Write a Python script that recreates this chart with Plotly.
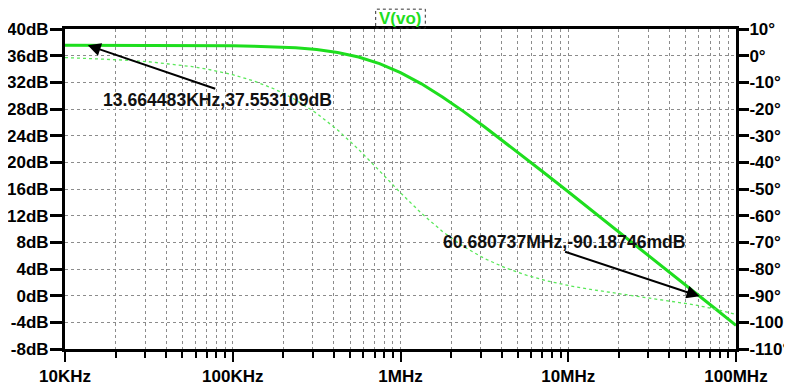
import plotly.graph_objects as go
import math

# ---- data (Bode plot of V(vo)) ----
freq_hz = [10000, 13335, 17783, 23714, 31623, 42170, 56234, 74989,
           100000, 133350, 177830, 237140, 316230, 421700, 562340, 749890,
           1000000, 1333500, 1778300, 2371400, 3162300, 4217000, 5623400, 7498900,
           10000000, 13335000, 17783000, 23714000, 31623000, 42170000, 56234000, 74989000,
           100000000]
mag_db = [37.549, 37.549, 37.548, 37.546, 37.543, 37.538, 37.529, 37.512,
          37.483, 37.431, 37.341, 37.184, 36.919, 36.485, 35.806, 34.812,
          33.463, 31.777, 29.811, 27.644, 25.341, 22.959, 20.525, 18.063,
          15.583, 13.096, 10.601, 8.103, 5.601, 3.098, 0.587, -1.930,
          -4.463]
phase_deg = [-0.72, -0.96, -1.28, -1.71, -2.28, -3.04, -4.05, -5.40,
             -7.14, -9.47, -12.55, -16.54, -21.61, -27.84, -35.14, -43.21,
             -51.42, -59.14, -65.91, -71.54, -76.04, -79.58, -82.32, -84.48,
             -86.18, -87.58, -88.76, -89.86, -90.93, -92.09, -93.41, -95.03,
             -97.04]

x_tickvals = [1e4, 1e5, 1e6, 1e7, 1e8]
x_ticktext = ["10KHz", "100KHz", "1MHz", "10MHz", "100MHz"]
x_minorvals = [m * d for d in [1e4, 1e5, 1e6, 1e7] for m in range(2, 10)]
db_ticks = [-8, -4, 0, 4, 8, 12, 16, 20, 24, 28, 32, 36, 40]
deg_ticks = [-110, -100, -90, -80, -70, -60, -50, -40, -30, -20, -10, 0, 10]

cursor1 = (13664.483, 37.553109, "13.664483KHz,37.553109dB")
cursor2 = (60680737.0, -0.09018746, "60.680737MHz,-90.18746mdB")

title_text = "V(vo)"

# ---- figure ----
FONT = "Liberation Sans"
tickfont = dict(family=FONT, size=17, color="black", weight="bold")
GRID = "#8c8c8c"

fig = go.Figure()
fig.add_trace(go.Scatter(x=freq_hz, y=mag_db, mode="lines",
                         line=dict(color="rgb(30,222,30)", width=3),
                         yaxis="y", hoverinfo="skip"))
fig.add_trace(go.Scatter(x=freq_hz, y=phase_deg, mode="lines",
                         line=dict(color="rgb(90,232,90)", width=1.3, dash="dot"),
                         yaxis="y2", hoverinfo="skip"))

# page body has an 8px margin, so the figure is 8px smaller and margins shifted
fig.update_layout(
    width=784, height=377,
    margin=dict(l=57, r=56, t=21, b=36, autoexpand=False),
    paper_bgcolor="white", plot_bgcolor="white",
    showlegend=False,
    xaxis=dict(type="log", range=[4, 8], automargin=False,
               tickmode="array", tickvals=x_tickvals, ticktext=x_ticktext,
               ticks="outside", ticklen=10, tickwidth=2, tickcolor="black",
               showline=True, linewidth=3, linecolor="black", mirror=True,
               showgrid=True, gridcolor=GRID, griddash="dot", gridwidth=1,
               minor=dict(tickmode="array", tickvals=x_minorvals,
                          ticks="outside", ticklen=6, tickwidth=2, tickcolor="black",
                          showgrid=True, gridcolor=GRID, griddash="dot", gridwidth=1),
               tickfont=tickfont, zeroline=False),
    yaxis=dict(range=[-8, 40], automargin=False, tickmode="array", tickvals=db_ticks,
               ticktext=[f"{v}dB" for v in db_ticks],
               ticks="outside", ticklen=12, tickwidth=3, tickcolor="black",
               showline=True, linewidth=3, linecolor="black",
               showgrid=True, gridcolor=GRID, griddash="dot", gridwidth=1,
               ticklabelstandoff=-2,
               tickfont=tickfont, zeroline=False),
    yaxis2=dict(range=[-110, 10], automargin=False, overlaying="y", side="right",
                tickmode="array", tickvals=deg_ticks,
                ticktext=[f"{v}°" for v in deg_ticks],
                ticks="outside", ticklen=10, tickwidth=3, tickcolor="black",
                showline=True, linewidth=3, linecolor="black",
                ticklabelstandoff=-3,
                showgrid=False, tickfont=tickfont, zeroline=False),
)

annots = []
# cursor arrows
for (fx, fy, _), (axp, ayp) in zip([cursor1, cursor2], [(129, 44), (-136, -45)]):
    annots.append(dict(x=math.log10(fx), y=fy, xref="x", yref="y", text="",
                       showarrow=True, arrowhead=2, arrowsize=1.3, arrowwidth=2,
                       arrowcolor="black", ax=axp, ay=ayp))
# cursor labels
annots.append(dict(x=0.227, y=0.778, xref="paper", yref="paper", text=cursor1[2],
                   showarrow=False, xanchor="center", yanchor="middle",
                   font=dict(family=FONT, size=17.6, color="#111", weight="bold")))
annots.append(dict(x=0.7437, y=0.334, xref="paper", yref="paper", text=cursor2[2],
                   showarrow=False, xanchor="center", yanchor="middle",
                   font=dict(family=FONT, size=17.6, color="#111", weight="bold")))
# title
annots.append(dict(x=0.5, y=1.034, xref="paper", yref="paper", text=title_text,
                   showarrow=False, xanchor="center", yanchor="middle",
                   borderpad=0,
                   font=dict(family=FONT, size=17, color="rgb(30,222,30)", weight="bold")))
fig.update_layout(annotations=annots)
fig.add_shape(type="rect", xref="paper", yref="paper",
              x0=0.463, x1=0.537, y0=1.003, y1=1.062,
              line=dict(color="#333", width=1, dash="dot"))

fig.write_html("out.html")
